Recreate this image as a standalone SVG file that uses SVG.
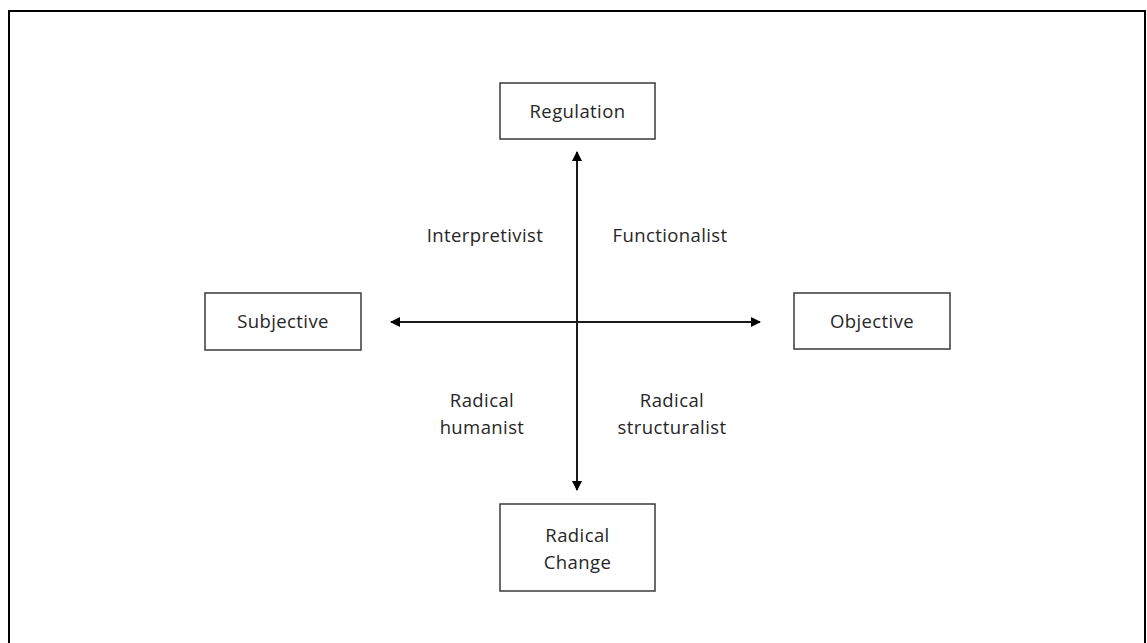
<svg xmlns="http://www.w3.org/2000/svg" width="1147" height="643" viewBox="0 0 1147 643">
  <style>
    .box { fill: #ffffff; stroke: #3a3a3a; stroke-width: 1.5; }
    .label { font-family: "Open Sans", "Liberation Sans", sans-serif; font-size: 18.5px; letter-spacing: 0.4px; fill: #262626; text-anchor: middle; }
    .axis { stroke: #1a1a1a; stroke-width: 2; fill: none; }
  </style>
  <defs>
    <marker id="arrow" viewBox="0 0 10 10" refX="9" refY="5" markerWidth="5" markerHeight="5" orient="auto-start-reverse" markerUnits="strokeWidth">
      <path d="M0,0 L10,5 L0,10 Z" fill="#000000"/>
    </marker>
  </defs>
  <rect x="0" y="0" width="1147" height="643" fill="#ffffff"/>
  <!-- outer frame -->
  <path d="M9,660 L9,11 L1145,11 L1145,660" fill="none" stroke="#000000" stroke-width="2"/>

  <g id="connectors">
    <line class="axis" x1="577" y1="490" x2="577" y2="152" marker-start="url(#arrow)" marker-end="url(#arrow)"/>
    <line class="axis" x1="391" y1="322" x2="760" y2="322" marker-start="url(#arrow)" marker-end="url(#arrow)"/>
  </g>

  <g id="regulation">
    <rect class="box" x="500" y="83" width="155" height="56"/>
    <text class="label" x="577.5" y="118">Regulation</text>
  </g>
  <g id="subjective">
    <rect class="box" x="205" y="293" width="156" height="57"/>
    <text class="label" x="283" y="328">Subjective</text>
  </g>
  <g id="objective">
    <rect class="box" x="794" y="293" width="156" height="56"/>
    <text class="label" x="872" y="328">Objective</text>
  </g>
  <g id="radical-change">
    <rect class="box" x="500" y="504" width="155" height="87"/>
    <text class="label" x="577.5" y="542">Radical</text>
    <text class="label" x="577.5" y="569">Change</text>
  </g>

  <g id="interpretivist">
    <text class="label" x="485" y="242">Interpretivist</text>
  </g>
  <g id="functionalist">
    <text class="label" x="670" y="242">Functionalist</text>
  </g>
  <g id="radical-humanist">
    <text class="label" x="482" y="407">Radical</text>
    <text class="label" x="482" y="434">humanist</text>
  </g>
  <g id="radical-structuralist">
    <text class="label" x="672" y="407">Radical</text>
    <text class="label" x="672" y="434">structuralist</text>
  </g>
</svg>
